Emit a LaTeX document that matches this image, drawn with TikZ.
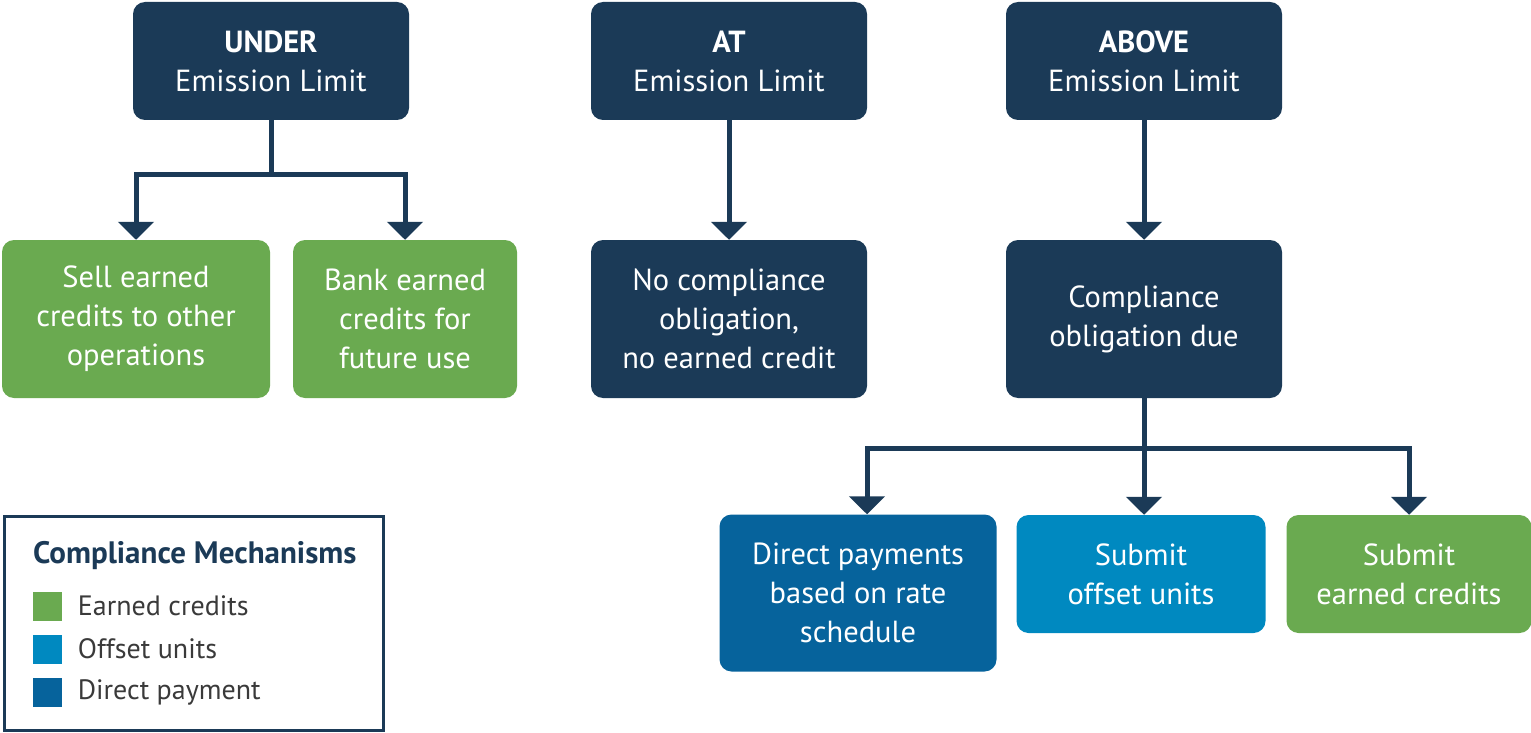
\documentclass[tikz,border=0pt]{standalone}
\usepackage{fontspec}
\setmainfont{PT Sans}
\usetikzlibrary{positioning,arrows.meta}
\definecolor{navy}{HTML}{1B3A57}
\definecolor{earned}{HTML}{6AAA50}
\definecolor{offset}{HTML}{0089C0}
\definecolor{direct}{HTML}{06639C}
\definecolor{legtext}{HTML}{3A3A3A}

\begin{document}
\begin{tikzpicture}[x=1pt,y=-1pt,
	box/.style={rounded corners=12pt,text=white,align=center,inner sep=0pt,
		font=\fontsize{30.5}{39}\selectfont},
	navybox/.style={box,fill=navy},
	greenbox/.style={box,fill=earned},
	offsetbox/.style={box,fill=offset},
	directbox/.style={box,fill=direct},
	link/.style={draw=navy,line width=5pt,-{Triangle[width=35pt,length=18pt]}},
	swatch/.style={minimum size=29pt,inner sep=0pt},
	legitem/.style={anchor=west,text=legtext,inner sep=0pt,font=\fontsize{28}{30}\selectfont}
	]
	\useasboundingbox (0,0) rectangle (1531,733);

	\node[navybox,minimum width=276pt,minimum height=118pt] (under) at (271,61) {\textbf{UNDER}\\Emission Limit};
	\node[navybox,minimum width=276pt,minimum height=118pt] (at) at (729,61) {\textbf{AT}\\Emission Limit};
	\node[navybox,minimum width=276pt,minimum height=118pt] (above) at (1144,61) {\textbf{ABOVE}\\Emission Limit};

	\node[greenbox,minimum width=268pt,minimum height=158pt] (sell) at (136,319) {Sell earned\\credits to other\\operations};
	\node[greenbox,minimum width=224pt,minimum height=158pt] (bank) at (405,319) {Bank earned\\credits for\\future use};
	\node[navybox,minimum width=276pt,minimum height=158pt] (nocomp) at (729,319) {No compliance\\obligation,\\no earned credit};
	\node[navybox,minimum width=276pt,minimum height=158pt] (due) at (1144,319) {Compliance\\obligation due};

	\node[directbox,minimum width=277pt,minimum height=157pt] (payment) at (858,593) {Direct payments\\based on rate\\schedule};
	\node[offsetbox,minimum width=249pt,minimum height=118pt] (offunits) at (1141,574) {Submit\\offset units};
	\node[greenbox,minimum width=245pt,minimum height=118pt] (credits) at (1409,574) {Submit\\earned credits};

	\coordinate (split1) at (271,174);
	\coordinate (split2) at (1144,448);

	\draw[link] (under.south) -- (split1) -| (sell.north);
	\draw[link] (split1) -| (bank.north);
	\draw[link] (at.south) -- (nocomp.north);
	\draw[link] (above.south) -- (due.north);
	\draw[link] (due.south) -- (split2) -| ([xshift=9pt]payment.north);
	\draw[link] (split2) -- (offunits.north -| split2);
	\draw[link] (split2) -| (credits.north);

	\node[draw=navy,line width=3pt,minimum width=379pt,minimum height=214pt,inner sep=0pt] (legend) at (193.5,623) {};
	\node[anchor=west,text=navy,inner sep=0pt,font=\fontsize{31}{34}\selectfont\bfseries] (legtitle) at (33,556) {Compliance Mechanisms};
	\node[swatch,fill=earned] (sw1) at (47,606) {};
	\node[swatch,fill=offset] (sw2) at (47,649) {};
	\node[swatch,fill=direct] (sw3) at (47,692) {};
	\node[legitem,right=16pt of sw1] (leg1) {Earned credits};
	\node[legitem,right=16pt of sw2] (leg2) {Offset units};
	\node[legitem,right=16pt of sw3] (leg3) {Direct payment};
\end{tikzpicture}
\end{document}
